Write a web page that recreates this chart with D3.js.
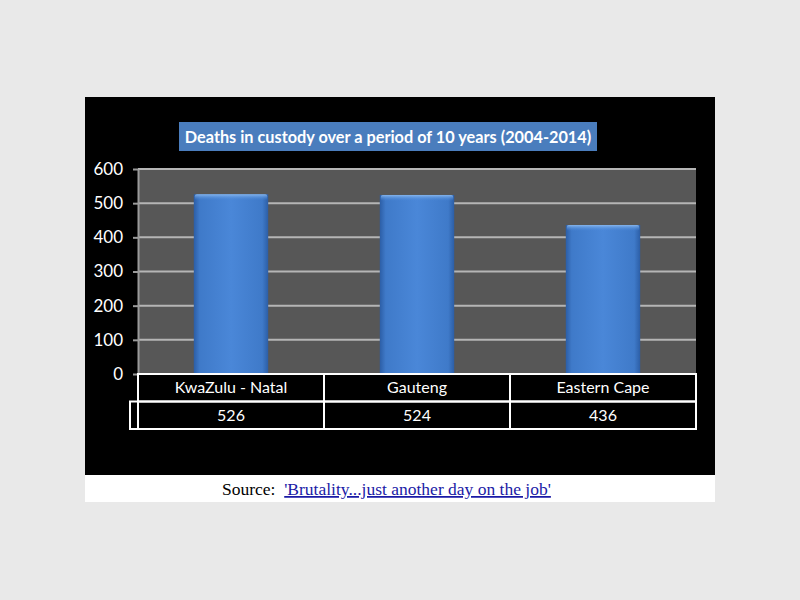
<!DOCTYPE html>
<html>
<head>
<meta charset="utf-8">
<script src="https://cdn.jsdelivr.net/npm/d3@7"></script>
<style>
  html, body { margin: 0; padding: 0; background: #e9e9e9; }
</style>
</head>
<body>
<div id="chart"></div>
<script>
"use strict";
// chart data
const categories = ['KwaZulu - Natal', 'Gauteng', 'Eastern Cape'];
const deaths = [526, 524, 436];
const yTicks = [0, 100, 200, 300, 400, 500, 600];
const title = 'Deaths in custody over a period of 10 years (2004-2014)';

const width = 800, height = 600;
const svg = d3.select('#chart').append('svg')
    .attr('width', width)
    .attr('height', height);

// bar gradient (left-right shading like the office 3d bars)
const defs = svg.append('defs');
const grad = defs.append('linearGradient').attr('id', 'barGrad')
    .attr('x1', '0%').attr('x2', '100%').attr('y1', '0%').attr('y2', '0%');
grad.append('stop').attr('offset', '0%').attr('stop-color', '#2c5ea6');
grad.append('stop').attr('offset', '8%').attr('stop-color', '#3f7ac9');
grad.append('stop').attr('offset', '50%').attr('stop-color', '#4a87d8');
grad.append('stop').attr('offset', '92%').attr('stop-color', '#3f7ac9');
grad.append('stop').attr('offset', '100%').attr('stop-color', '#2c5ea6');
// top bevel: light fading down
const bevel = defs.append('linearGradient').attr('id', 'bevelGrad')
    .attr('x1', '0%').attr('x2', '0%').attr('y1', '0%').attr('y2', '100%');
bevel.append('stop').attr('offset', '0%').attr('stop-color', '#8dbbf0').attr('stop-opacity', 0.9);
bevel.append('stop').attr('offset', '100%').attr('stop-color', '#4a87d8').attr('stop-opacity', 0);

// black slide + white caption strip
svg.append('rect').attr('x', 85).attr('y', 97).attr('width', 630).attr('height', 378).attr('fill', '#000');
svg.append('rect').attr('x', 85).attr('y', 475).attr('width', 630).attr('height', 27).attr('fill', '#fff');

const plot = { left: 138, right: 696, top: 169, bottom: 374 };

const x = d3.scaleBand().domain(categories).range([plot.left, plot.right]).padding(0);
const y = d3.scaleLinear().domain([0, 600]).range([plot.bottom, plot.top]);

// plot area
svg.append('rect')
    .attr('x', plot.left).attr('y', plot.top)
    .attr('width', plot.right - plot.left).attr('height', plot.bottom - plot.top)
    .attr('fill', '#575757');

// gridlines
svg.append('g').attr('class', 'grid')
    .selectAll('line')
    .data(yTicks.filter(d => d > 0))
    .enter().append('line')
    .attr('x1', plot.left).attr('x2', plot.right)
    .attr('y1', d => y(d)).attr('y2', d => y(d))
    .style('stroke', '#b5b5b5')
    .style('stroke-width', '2px');

// y axis
const yAxis = svg.append('g')
    .attr('transform', 'translate(' + plot.left + ',0)')
    .call(d3.axisLeft(y).tickValues(yTicks).tickSize(5).tickPadding(10).tickSizeOuter(0));
yAxis.select('.domain').style('stroke', '#9a9a9a').style('stroke-width', '2px');
yAxis.selectAll('.tick line').style('stroke', '#9a9a9a').style('stroke-width', '2px');
yAxis.selectAll('.tick text')
    .style('fill', '#fff')
    .style('font-family', 'Lato, "Open Sans", sans-serif')
    .style('font-size', '17px');

// bars
const barW = x.bandwidth() * 0.4;
const bars = svg.append('g').attr('class', 'bars')
    .selectAll('g')
    .data(categories.map((c, i) => ({ cat: c, value: deaths[i] })))
    .enter().append('g');
bars.append('rect')
    .attr('x', d => x(d.cat) + (x.bandwidth() - barW) / 2)
    .attr('y', d => y(d.value))
    .attr('width', barW)
    .attr('height', d => y(0) - y(d.value))
    .attr('fill', 'url(#barGrad)');
bars.append('rect')
    .attr('x', d => x(d.cat) + (x.bandwidth() - barW) / 2 + 1)
    .attr('y', d => y(d.value))
    .attr('width', barW - 2)
    .attr('height', 6)
    .attr('rx', 2)
    .attr('fill', 'url(#bevelGrad)');

// data table below the axis
const rowH = 27.5;
const table = svg.append('g').attr('class', 'table')
    .style('stroke', '#fff').style('stroke-width', '2px').style('fill', 'none');
table.append('rect').attr('x', plot.left).attr('y', plot.bottom)
    .attr('width', plot.right - plot.left).attr('height', rowH);
table.append('rect').attr('x', 130).attr('y', plot.bottom + rowH)
    .attr('width', plot.right - 130).attr('height', rowH);
table.append('line').attr('x1', plot.left).attr('x2', plot.left)
    .attr('y1', plot.bottom + rowH).attr('y2', plot.bottom + 2 * rowH);
table.selectAll('line.div')
    .data(categories.slice(1))
    .enter().append('line').attr('class', 'div')
    .attr('x1', d => x(d)).attr('x2', d => x(d))
    .attr('y1', plot.bottom).attr('y2', plot.bottom + 2 * rowH);

const cellText = svg.append('g')
    .style('fill', '#fff')
    .style('font-family', 'Lato, "Open Sans", sans-serif')
    .style('font-size', '16px')
    .attr('text-anchor', 'middle');
cellText.selectAll('text.cat')
    .data(categories)
    .enter().append('text').attr('class', 'cat')
    .attr('x', d => x(d) + x.bandwidth() / 2)
    .attr('y', plot.bottom + rowH / 2)
    .attr('dy', '0.35em')
    .text(d => d);
cellText.selectAll('text.val')
    .data(categories.map((c, i) => ({ cat: c, value: deaths[i] })))
    .enter().append('text').attr('class', 'val')
    .attr('x', d => x(d.cat) + x.bandwidth() / 2)
    .attr('y', plot.bottom + rowH * 1.5)
    .attr('dy', '0.35em')
    .text(d => d.value);

// title box
svg.append('rect').attr('x', 179).attr('y', 122).attr('width', 418).attr('height', 29)
    .attr('fill', '#4a7dbd');
svg.append('text')
    .attr('x', 388).attr('y', 137).attr('dy', '0.35em')
    .attr('text-anchor', 'middle')
    .style('fill', '#fff')
    .style('font-family', 'Lato, "Open Sans", sans-serif')
    .style('font-weight', 'bold')
    .style('font-size', '16.3px')
    .text(title);

// source caption
const src = svg.append('text')
    .attr('x', 222).attr('y', 495)
    .style('font-family', '"Liberation Serif", "Times New Roman", serif')
    .style('font-size', '17.5px');
src.append('tspan').style('fill', '#000').text('Source:\u00a0\u00a0');
src.append('tspan').style('fill', '#1a1aa6').style('text-decoration', 'underline')
    .text("'Brutality...just another day on the job'");
</script>
</body>
</html>
